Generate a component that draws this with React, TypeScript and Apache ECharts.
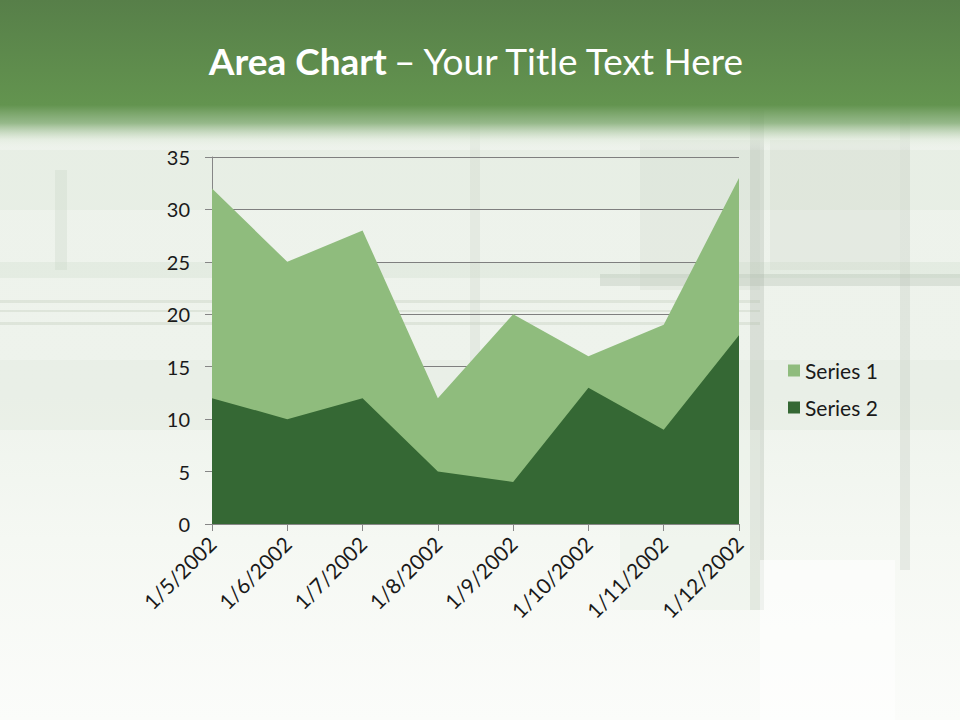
import React, { useEffect, useRef } from "react";
import * as echarts from "echarts";

const categories = ["1/5/2002", "1/6/2002", "1/7/2002", "1/8/2002", "1/9/2002", "1/10/2002", "1/11/2002", "1/12/2002"];
const series1 = [32, 25, 28, 12, 20, 16, 19, 33];
const series2 = [12, 10, 12, 5, 4, 13, 9, 18];
const seriesNames = ["Series 1", "Series 2"];
const yTicks = { min: 0, max: 35, interval: 5 };

const FONT = "Lato, 'Noto Sans', sans-serif";

export default function App() {
  const ref = useRef<HTMLDivElement>(null);
  useEffect(() => {
    document.body.style.margin = "0";
    const chart = echarts.init(ref.current!, null, { renderer: "svg" });
    const tex = (x: number, y: number, w: number, h: number, color: string, opacity: number) => ({
      type: "rect",
      z: -9,
      shape: { x, y, width: w, height: h },
      style: { fill: color, opacity },
      silent: true,
    });
    chart.setOption({
      animation: false,
      backgroundColor: "#f4f7f2",
      graphic: [
        {
          type: "rect",
          z: -10,
          shape: { x: 0, y: 0, width: 960, height: 720 },
          style: {
            fill: new echarts.graphic.LinearGradient(0, 0, 0, 1, [
              { offset: 0, color: "#edf2eb" },
              { offset: 0.55, color: "#eef3ec" },
              { offset: 0.75, color: "#f5f8f3" },
              { offset: 1, color: "#fbfcfa" },
            ]),
          },
          silent: true,
        },
        // faint texture
        tex(0, 150, 960, 60, "#dde7d9", 0.35),
        tex(0, 262, 960, 16, "#c9d6c4", 0.25),
        tex(0, 300, 760, 3, "#c0ccbb", 0.35),
        tex(0, 310, 760, 2, "#c0ccbb", 0.35),
        tex(0, 322, 760, 3, "#c0ccbb", 0.35),
        tex(0, 360, 960, 70, "#dfe8db", 0.3),
        tex(600, 274, 360, 12, "#adb8a9", 0.3),
        tex(750, 110, 14, 500, "#aab4a7", 0.3),
        tex(900, 110, 10, 460, "#b8c1b5", 0.25),
        tex(470, 110, 10, 300, "#c4cec0", 0.22),
        tex(55, 170, 12, 100, "#c7d3c2", 0.3),
        tex(640, 140, 120, 150, "#c3ccbf", 0.2),
        tex(770, 140, 130, 130, "#c3ccbf", 0.22),
        tex(620, 430, 140, 180, "#e9efe6", 0.4),
        tex(760, 560, 135, 160, "#ffffff", 0.5),
        {
          type: "rect",
          z: -8,
          shape: { x: 0, y: 0, width: 960, height: 150 },
          style: {
            fill: new echarts.graphic.LinearGradient(0, 0, 0, 1, [
              { offset: 0, color: "#577f49" },
              { offset: 0.7, color: "#63944f" },
              { offset: 0.82, color: "rgba(120,165,105,0.75)" },
              { offset: 0.93, color: "rgba(220,232,215,0.5)" },
              { offset: 1, color: "rgba(240,245,238,0)" },
            ]),
          },
          silent: true,
        },
      ],
      title: {
        text: "{b|Area Chart} {r|– Your Title Text Here}",
        left: 472,
        textAlign: "center",
        top: 37,
        textStyle: {
          rich: {
            b: { fontFamily: FONT, fontSize: 37, fontWeight: "bold", color: "#ffffff" },
            r: { fontFamily: FONT, fontSize: 37, fontWeight: "normal", color: "#ffffff" },
          },
        },
      },
      legend: {
        orient: "vertical",
        left: 783,
        top: 355,
        itemWidth: 12,
        itemHeight: 12,
        itemGap: 16,
        icon: "rect",
        data: seriesNames,
        textStyle: { fontFamily: FONT, fontSize: 21, color: "#1a1a1a" },
      },
      grid: { left: 212, right: 221, top: 157, bottom: 196, containLabel: false },
      xAxis: {
        type: "category",
        data: categories,
        boundaryGap: false,
        axisLine: { show: true, lineStyle: { color: "#868686", width: 1 } },
        axisTick: { show: true, alignWithLabel: true, length: 7, lineStyle: { color: "#868686" } },
        axisLabel: {
          rotate: 45,
          interval: 0,
          margin: 16,
          fontFamily: FONT,
          fontSize: 21,
          color: "#1a1a1a",
        },
        splitLine: { show: false },
      },
      yAxis: {
        type: "value",
        min: yTicks.min,
        max: yTicks.max,
        interval: yTicks.interval,
        axisLine: { show: true, lineStyle: { color: "#868686", width: 1 } },
        axisTick: { show: true, length: 7, lineStyle: { color: "#868686" } },
        axisLabel: { margin: 22, fontFamily: FONT, fontSize: 20, color: "#1a1a1a" },
        splitLine: { show: true, lineStyle: { color: "#7f7f7f", width: 1 } },
      },
      series: [
        {
          name: seriesNames[0],
          type: "line",
          data: series1,
          showSymbol: false,
          symbol: "none",
          lineStyle: { width: 0 },
          itemStyle: { color: "#8fbc7d" },
          areaStyle: { color: "#8fbc7d", opacity: 1 },
          z: 2,
        },
        {
          name: seriesNames[1],
          type: "line",
          data: series2,
          showSymbol: false,
          symbol: "none",
          lineStyle: { width: 0 },
          itemStyle: { color: "#356834" },
          areaStyle: { color: "#356834", opacity: 1 },
          z: 3,
        },
      ],
    });
    return () => chart.dispose();
  }, []);
  return <div ref={ref} style={{ position: "fixed", left: 0, top: 0, width: 960, height: 720 }} />;
}
